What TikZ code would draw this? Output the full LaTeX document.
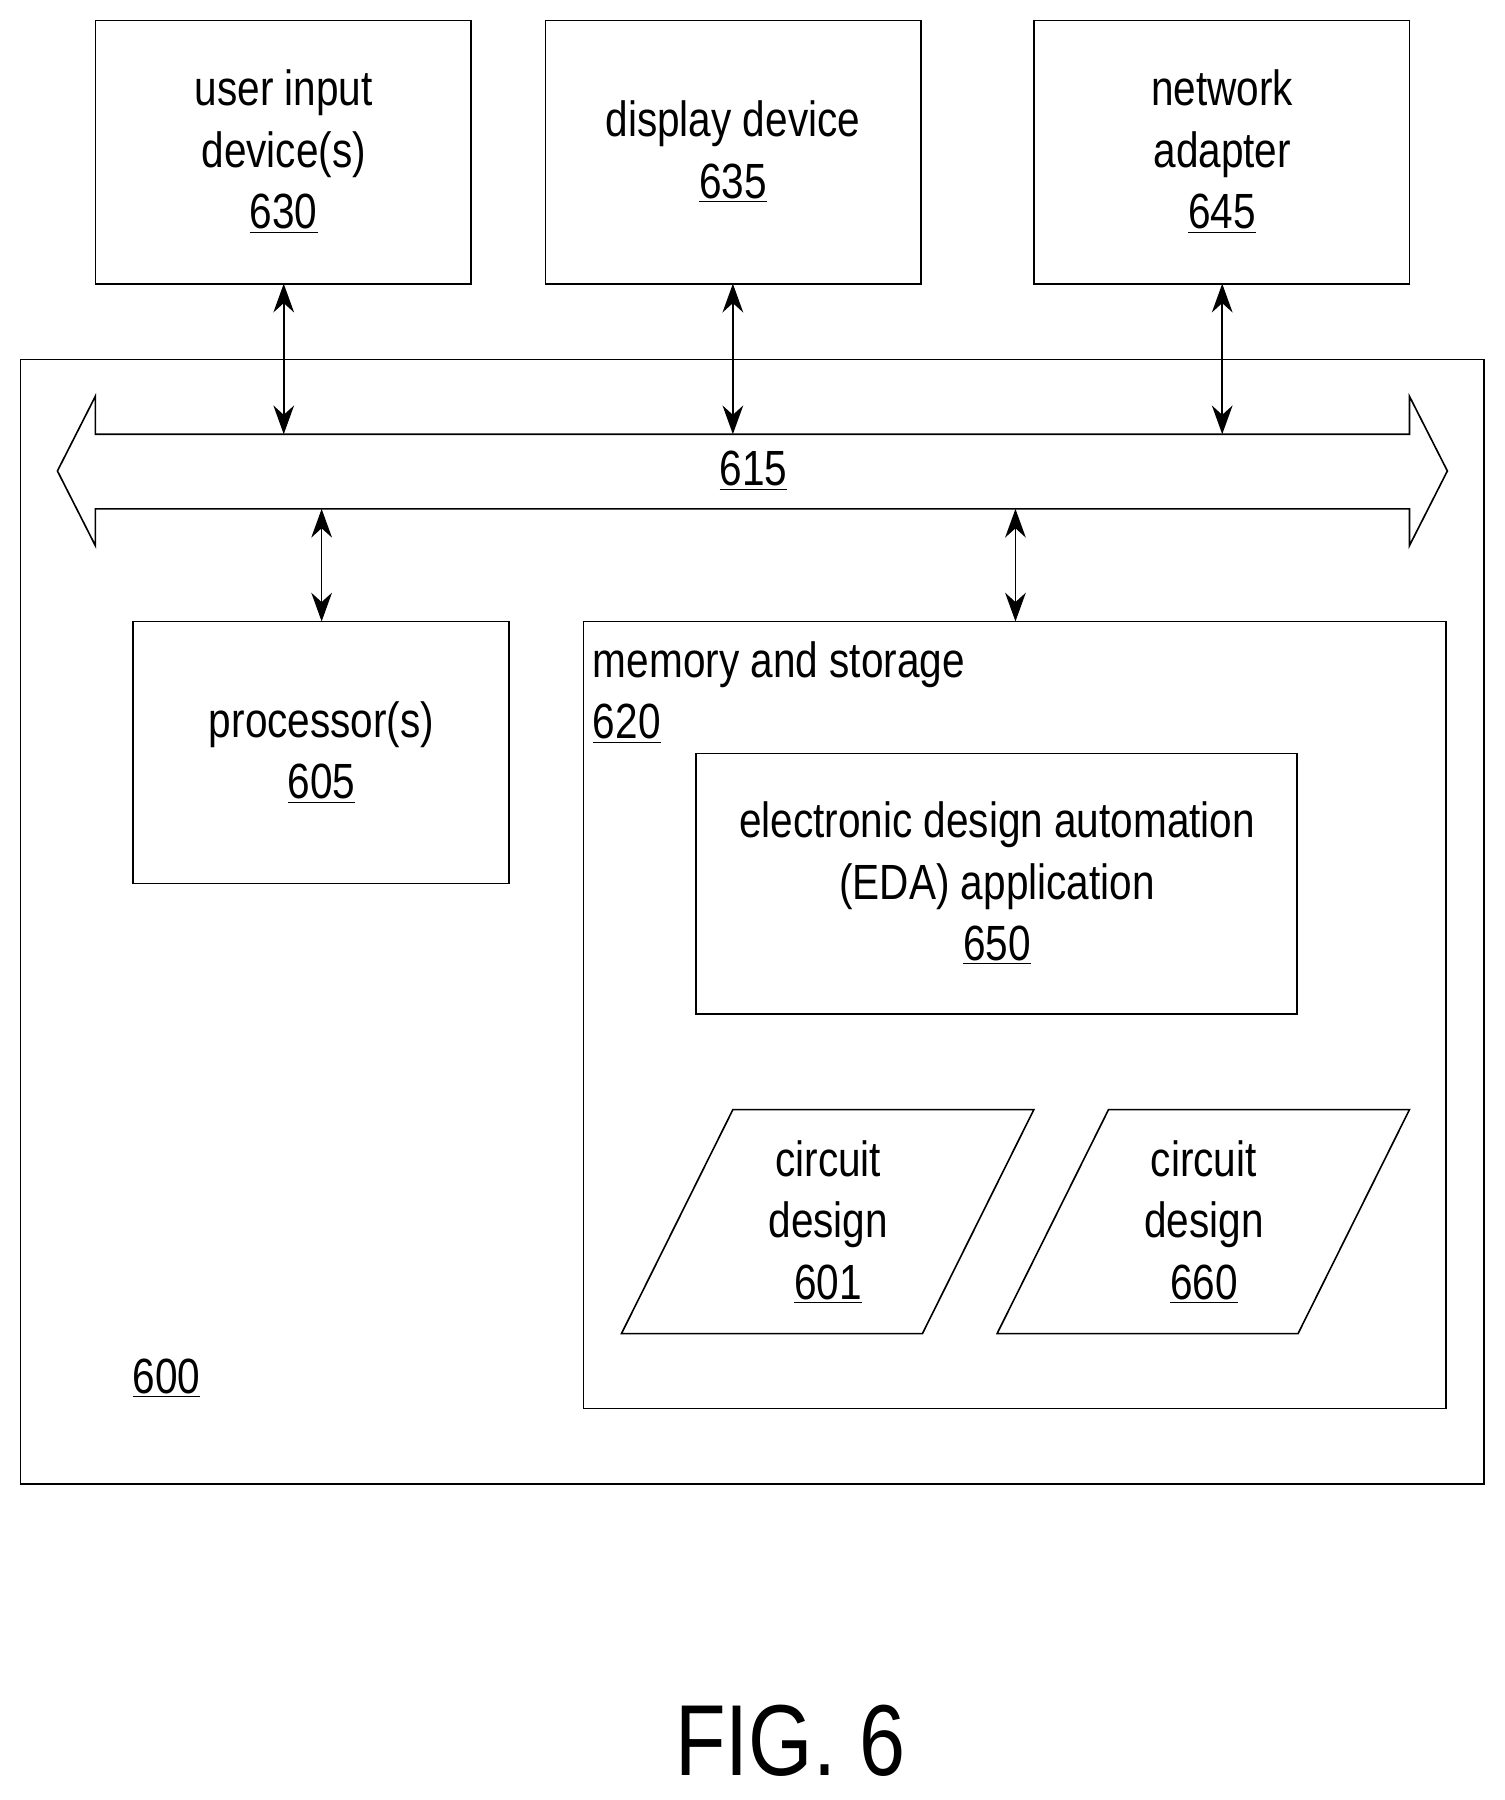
\documentclass[tikz,border=0pt]{standalone}
\usepackage{fontspec}
\setmainfont{Liberation Sans}[FakeStretch=0.82]
\usetikzlibrary{arrows.meta,positioning}
\tikzset{
  box/.style = {draw, thick, inner sep=0pt},
  lbl/.style = {align=center, font=\fontsize{24.5}{30.5}\selectfont},
  link/.style = {thick, {Stealth[length=5mm,width=3.6mm]}-{Stealth[length=5mm,width=3.6mm]}}
}
\begin{document}
\begin{tikzpicture}[x=0.02cm,y=-0.02cm]

  \useasboundingbox (0,0) rectangle (1310,1567);

  % outer system
  \draw [thick] (18,313) rectangle (1292,1292);
  \node [lbl] (n600) at (145,1200) {\underline{600}};

  % top devices
  \draw [thick] (83,18) rectangle (410,247);
  \node [lbl] (uin) at (247,132) {user input\\device(s)\\\underline{630}};
  \draw [thick] (475,18) rectangle (802,247);
  \node [lbl] (disp) at (638,132) {display device\\\underline{635}};
  \draw [thick] (900,18) rectangle (1227,247);
  \node [lbl] (net) at (1064,132) {network\\adapter\\\underline{645}};

  % bus
  \draw [thick, fill=white] (83,378) -- (1227,378) -- (1227,345) -- (1260,410) -- (1227,475)
    -- (1227,443) -- (83,443) -- (83,475) -- (50,410) -- (83,345) -- cycle;
  \node [lbl] (bus) at (656,410) {\underline{615}};

  \coordinate (a1) at (247,247);  \coordinate (b1) at (247,378);
  \coordinate (a2) at (638,247);  \coordinate (b2) at (638,378);
  \coordinate (a3) at (1064,247); \coordinate (b3) at (1064,378);
  \coordinate (a4) at (280,443);  \coordinate (b4) at (280,541);
  \coordinate (a5) at (884,443);  \coordinate (b5) at (884,541);
  \foreach \i in {1,...,5}
    \draw [link] (a\i) -- (b\i);

  % processor
  \draw [thick] (116,541) rectangle (443,769);
  \node [lbl] (proc) at (280,655) {processor(s)\\\underline{605}};

  % memory and storage
  \draw [thick] (508,541) rectangle (1259,1226);
  \node [lbl, align=left, anchor=north west] (mem) at (510,552) {memory and storage\\\underline{620}};

  \draw [thick] (606,656) rectangle (1129,883);
  \node [lbl] (eda) at (868,769) {electronic design automation\\(EDA) application\\\underline{650}};

  % circuit designs
  \draw [thick] (638,966) -- (900,966) -- (803,1161) -- (541,1161) -- cycle;
  \node [lbl] (cd1) at (721,1064) {circuit\\design\\\underline{601}};
  \draw [thick] (965,966) -- (1227,966) -- (1130,1161) -- (868,1161) -- cycle;
  \node [lbl] (cd2) at (1048,1064) {circuit\\design\\\underline{660}};

  \node [font=\fontsize{50}{60}\selectfont] (fig) at (688,1515) {FIG. 6};

\end{tikzpicture}
\end{document}
